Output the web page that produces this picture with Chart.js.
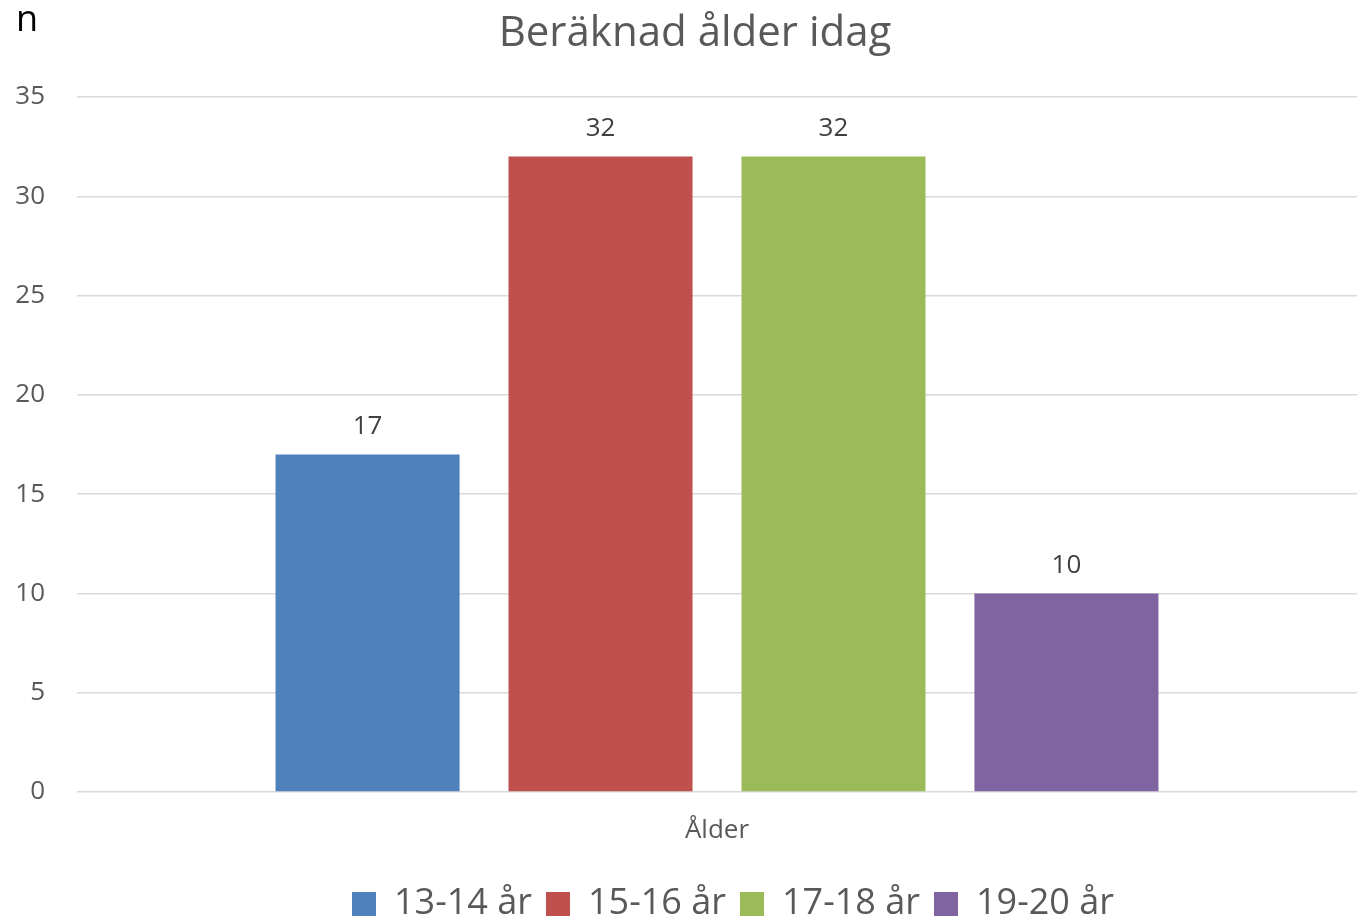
<!DOCTYPE html>
<html>
<head>
<meta charset="utf-8">
<script src="https://cdn.jsdelivr.net/npm/chart.js@4/dist/chart.umd.min.js"></script>
<style>
  html, body { margin: 0; padding: 0; background: #fff; }
  #wrap { width: 1357px; height: 920px; }
</style>
</head>
<body>
<div id="wrap"><canvas id="c" width="1357" height="920"></canvas></div>
<script>
// Data
var categories = ['Ålder'];
var seriesNames = ['13-14 år', '15-16 år', '17-18 år', '19-20 år'];
var seriesValues = [[17], [32], [32], [10]];
var seriesColors = ['#4f81bd', '#c0504d', '#9bbb59', '#8064a2'];
var yTicks = [0, 5, 10, 15, 20, 25, 30, 35];

var FONT = '"Open Sans", sans-serif';

// Title, the "n" unit label and the value labels over the bars
var textPlugin = {
  id: 'texts',
  afterLayout: function(chart) {
    // legend sits a bit right of centre and low in the original
    chart.legend.left += 45;
    chart.legend.right += 45;
    chart.legend.top += 12;
    chart.legend.bottom += 12;
  },
  afterDatasetsDraw: function(chart) {
    var ctx = chart.ctx;
    ctx.save();
    ctx.font = '26px ' + FONT;
    ctx.fillStyle = '#404040';
    ctx.textAlign = 'center';
    ctx.textBaseline = 'middle';
    chart.data.datasets.forEach(function(ds, i) {
      var meta = chart.getDatasetMeta(i);
      meta.data.forEach(function(bar, j) {
        ctx.fillText(String(ds.data[j]), bar.x, bar.y - 28);
      });
    });
    ctx.restore();
  },
  afterDraw: function(chart) {
    var ctx = chart.ctx;
    ctx.save();
    ctx.textBaseline = 'middle';
    ctx.textAlign = 'center';
    ctx.font = '42px ' + FONT;
    ctx.fillStyle = '#595959';
    ctx.fillText('Beräknad ålder idag', 695, 34);
    ctx.textAlign = 'left';
    ctx.font = '36px ' + FONT;
    ctx.fillStyle = '#000';
    ctx.fillText('n', 16, 21);
    ctx.restore();
  }
};

new Chart(document.getElementById('c').getContext('2d'), {
  type: 'bar',
  plugins: [textPlugin],
  data: {
    labels: categories,
    datasets: seriesNames.map(function(name, i) {
      return {
        label: name,
        data: seriesValues[i],
        backgroundColor: seriesColors[i],
        categoryPercentage: 0.728,
        barPercentage: 0.79
      };
    })
  },
  options: {
    responsive: false,
    animation: false,
    layout: { padding: { top: 97, left: 14, right: -5, bottom: 0 } },
    scales: {
      x: {
        grid: { display: false },
        border: { display: false },
        ticks: { color: '#595959', font: { family: FONT, size: 26 }, padding: 15 },
        afterFit: function(axis) { axis.height = 68; }
      },
      y: {
        min: 0,
        max: 35,
        afterBuildTicks: function(axis) {
          axis.ticks = yTicks.map(function(v) { return { value: v }; });
        },
        afterFit: function(axis) { axis.width = 63; },
        grid: { color: '#d9d9d9', lineWidth: 1.5, drawTicks: false },
        border: { display: false },
        ticks: { color: '#595959', font: { family: FONT, size: 26 }, padding: 32 }
      }
    },
    plugins: {
      title: { display: false },
      tooltip: { enabled: false },
      legend: {
        position: 'bottom',
        labels: {
          boxWidth: 24,
          boxHeight: 24,
          padding: 14,
          color: '#595959',
          font: { family: FONT, size: 36 }
        }
      }
    }
  }
});
</script>
</body>
</html>
